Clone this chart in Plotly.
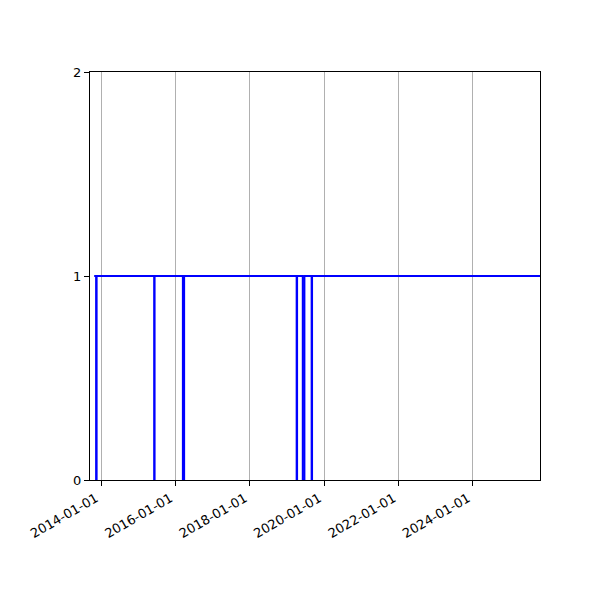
import plotly.graph_objects as go

# Step series: status flag over time (drops to 0 for short outages)
dates = [
    "2013-10-26", "2013-11-13", "2013-11-20",
    "2015-06-06", "2015-06-12",
    "2016-03-14", "2016-03-28",
    "2019-04-05", "2019-04-11",
    "2019-06-04", "2019-06-22",
    "2019-08-30", "2019-09-05",
    "2026-01-01",
]
status = [1, 0, 1, 0, 1, 0, 1, 0, 1, 0, 1, 0, 1, 1]

tick_dates = ["2014-01-01", "2016-01-01", "2018-01-01",
              "2020-01-01", "2022-01-01", "2024-01-01"]
y_ticks = [0, 1, 2]

fig = go.Figure()

fig.add_trace(go.Scatter(
    x=dates,
    y=status,
    mode="lines",
    line=dict(color="blue", width=1.8, shape="hv"),
    showlegend=False,
    hoverinfo="skip",
))

# page has an 8px body offset, margins compensate for it
fig.update_layout(
    width=600,
    height=600,
    margin=dict(l=82, r=68, t=64, b=128),
    plot_bgcolor="white",
    paper_bgcolor="white",
    font=dict(family="DejaVu Sans", size=13, color="black"),
    xaxis=dict(
        type="date",
        range=["2013-09-15", "2025-10-20"],
        tickvals=tick_dates,
        ticktext=tick_dates,
        tickangle=-30,
        ticklabelshift=-5,
        showgrid=True,
        gridcolor="#b0b0b0",
        gridwidth=1,
        showline=True,
        linecolor="black",
        linewidth=1,
        mirror=True,
        ticks="outside",
        ticklen=5,
        tickcolor="black",
        zeroline=False,
    ),
    yaxis=dict(
        range=[0, 2],
        tickvals=y_ticks,
        showgrid=False,
        showline=True,
        linecolor="black",
        linewidth=1,
        mirror=True,
        ticks="outside",
        ticklen=5,
        tickcolor="black",
        zeroline=False,
    ),
)

fig.write_html("out.html")
